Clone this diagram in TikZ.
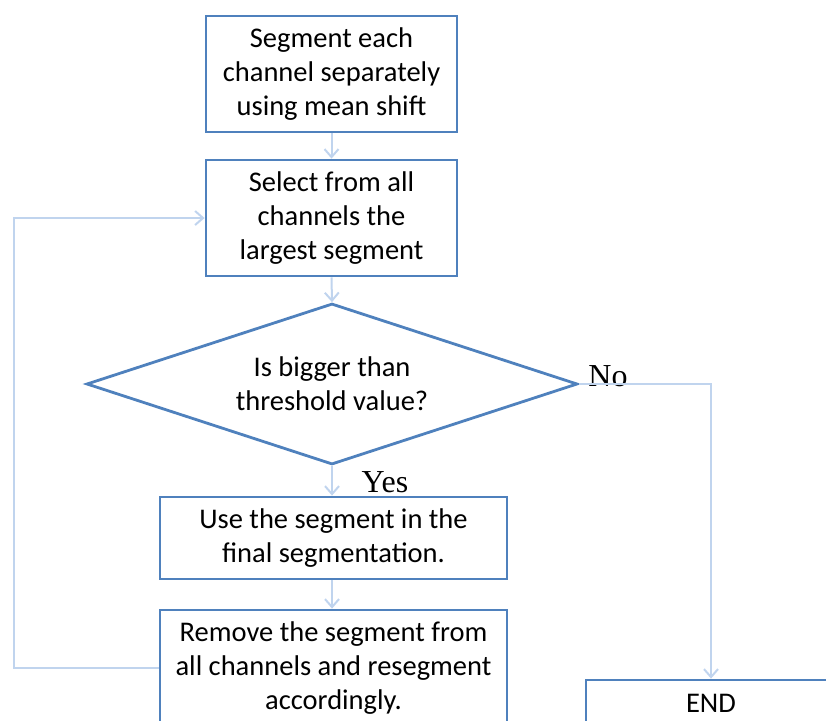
\documentclass[tikz,border=0pt]{standalone}
\usepackage{fontspec}
\setmainfont{Carlito}
\newfontfamily\timesfont{Liberation Serif}
\usetikzlibrary{arrows.meta,shapes.geometric,positioning,calc}
\definecolor{boxblue}{HTML}{4F81BD}
\definecolor{flowblue}{HTML}{C0D4EE}
\tikzset{>={Straight Barb[length=8pt,width=14pt]}}

\begin{document}
\begin{tikzpicture}[x=1pt,y=-1pt,
	box/.style={draw=boxblue, line width=2.8pt, align=center, inner sep=0pt, font=\fontsize{28.5}{34}\selectfont},
	flow/.style={draw=flowblue, line width=2pt, ->},
	answer/.style={font=\timesfont\fontsize{32}{36}\selectfont}]

	\useasboundingbox (0,0) rectangle (826,720);
	\clip (0,0) rectangle (826,720);

	\node (segment) [box, minimum width=251pt, minimum height=116pt] at (331.5,74) {Segment each\\channel separately\\using mean shift};

	\node (select) [box, minimum width=251pt, minimum height=116pt] at (331.5,218) {Select from all\\channels the\\largest segment};

	\node (threshold) [box, diamond, aspect=3.05, minimum width=491pt, minimum height=161pt] at (332,384) {Is bigger than\\threshold value?};

	\node (use) [box, minimum width=347pt, minimum height=82pt] at (333.5,538) {Use the segment in the\\final segmentation.};

	\node (remove) [box, minimum width=347pt, minimum height=116pt] at (333.5,668) {Remove the segment from\\all channels and resegment\\accordingly.};

	\node (end) [box, minimum width=250pt, minimum height=46pt] at (711,703) {END};

	\node (no-label) [answer] at (608,376) {No};
	\node (yes-label) [answer] at (385,482) {Yes};

	\coordinate (loop-bottom) at (14,668);
	\coordinate (loop-top) at (14,218);

	\draw[flow] (segment) -- (select);
	\draw[flow] (select.south) -- (threshold.north);
	\draw[flow] (threshold.south) -- (threshold.south |- use.north);
	\draw[flow] (use.south -| threshold.south) -- (remove.north -| threshold.south);
	\draw[flow] (remove.west) -- (loop-bottom) -- (loop-top) -- (select.west);
	\draw[flow] (threshold.east) -| (end.north);

\end{tikzpicture}
\end{document}
